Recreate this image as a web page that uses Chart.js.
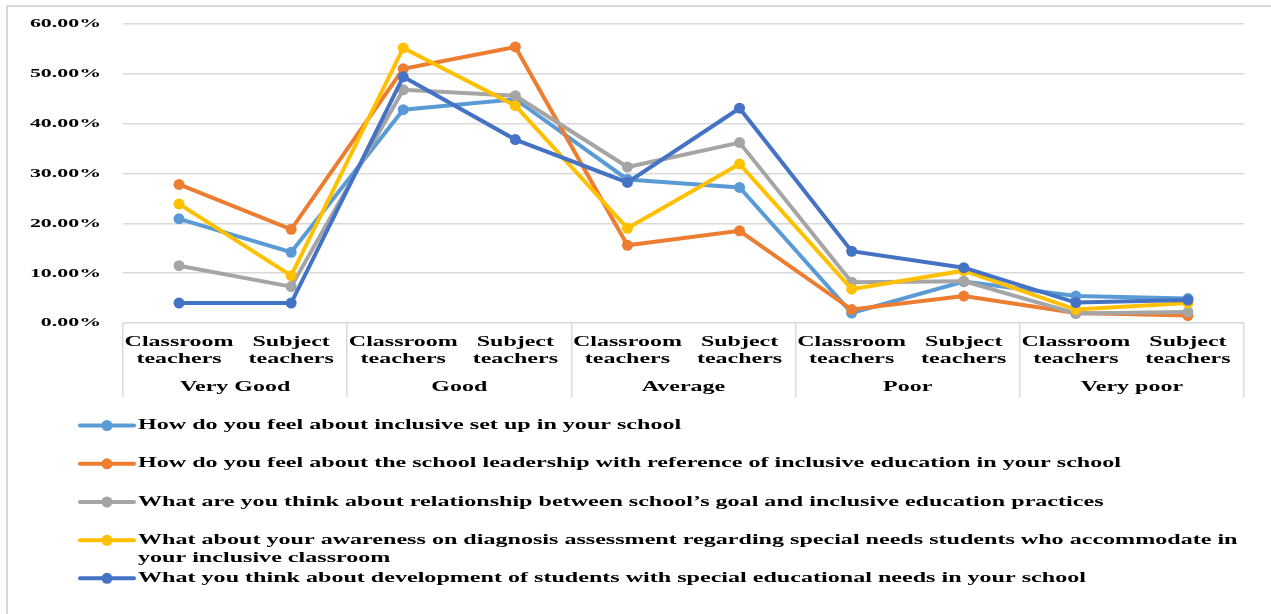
<!DOCTYPE html>
<html>
<head>
<meta charset="utf-8">
<script src="https://cdn.jsdelivr.net/npm/chart.js@4.4.1/dist/chart.umd.min.js"></script>
<style>
  html, body { margin: 0; padding: 0; background: #fff; overflow: hidden; }
  #frame { position: absolute; left: 6px; top: 5px; width: 1400px; height: 800px; border: 2px solid #d9d9d9; box-sizing: border-box; }
  #wrap { position: absolute; left: 0; top: 0; width: 1271px; height: 614px; }
</style>
</head>
<body>
<div id="frame"></div>
<div id="wrap"><canvas id="c" width="1271" height="614"></canvas></div>
<script>
// ---- data ----
const groups = ['Very Good', 'Good', 'Average', 'Poor', 'Very poor'];
const roles = [['Classroom', 'teachers'], ['Subject', 'teachers']];
const yTicks = [0, 10, 20, 30, 40, 50, 60];

const seriesNames = [
  'How do you feel about inclusive set up in your school',
  'How do you feel about the school leadership with reference of inclusive education in your school',
  'What are you think about relationship between school\u2019s goal and inclusive education practices',
  'What about your awareness on diagnosis assessment regarding special needs students who accommodate in your inclusive classroom',
  'What you think about development of students with special educational needs in your school'
];
const setUp      = [20.9, 14.2, 42.8, 44.9, 28.8, 27.2, 2.0, 8.3, 5.4, 4.9];
const leadership = [27.8, 18.8, 51.0, 55.4, 15.6, 18.5, 2.7, 5.4, 2.0, 1.5];
const goals      = [11.5, 7.3, 46.8, 45.6, 31.3, 36.2, 8.2, 8.4, 1.9, 2.2];
const awareness  = [23.9, 9.5, 55.2, 43.6, 19.0, 31.9, 6.8, 10.5, 2.7, 4.0];
const development= [4.0, 4.0, 49.4, 36.8, 28.2, 43.1, 14.4, 11.1, 4.1, 4.6];
const seriesValues = [setUp, leadership, goals, awareness, development];
const colors = ['#5B9BD5', '#ED7D31', '#A5A5A5', '#FFC000', '#4472C4'];

// ---- build ----
const labels = [];
groups.forEach(() => roles.forEach(r => labels.push(r)));

const canvas = document.getElementById('c');
const ctx = canvas.getContext('2d');
// horizontally widened serif text, as in the reference
const STRETCH = { right: 1.62, center: 1.6, left: 1.72 };
const kOf = c => STRETCH[c.textAlign] || 1.6;
const origFill = ctx.fillText.bind(ctx);
const origMeasure = ctx.measureText.bind(ctx);
ctx.fillText = function (t, x, y) {
  const k = kOf(this);
  this.save(); this.translate(x, y); this.scale(k, 1); origFill(t, 0, 0); this.restore();
};
ctx.measureText = function (t) {
  const k = kOf(this);
  const m = origMeasure(t);
  return { width: m.width * k, actualBoundingBoxAscent: m.actualBoundingBoxAscent,
    actualBoundingBoxDescent: m.actualBoundingBoxDescent,
    actualBoundingBoxLeft: m.actualBoundingBoxLeft * k, actualBoundingBoxRight: m.actualBoundingBoxRight * k,
    fontBoundingBoxAscent: m.fontBoundingBoxAscent, fontBoundingBoxDescent: m.fontBoundingBoxDescent };
};

const FONT = 'Liberation Serif, "Times New Roman", serif';
const GRID = '#d9d9d9';
const TRANSPARENT = 'rgba(0,0,0,0)';

const legendPlugin = {
  id: 'stackLegend',
  afterDraw(chart) {
    const c = chart.ctx;
    const ys = [425.5, 463.8, 502, 540.3, 578.3];
    const textX = 138, maxW = 1243 - textX;
    c.save();
    c.font = 'bold 14px ' + FONT;
    c.textBaseline = 'middle';
    c.textAlign = 'left';
    chart.data.datasets.forEach((ds, i) => {
      const y = ys[i];
      c.strokeStyle = ds.borderColor; c.lineWidth = 4; c.lineCap = 'round';
      c.beginPath(); c.moveTo(80, y); c.lineTo(134, y); c.stroke();
      c.fillStyle = ds.borderColor;
      c.beginPath(); c.arc(107, y, 5.5, 0, Math.PI * 2); c.fill();
      c.fillStyle = '#000';
      const words = ds.label.split(' ');
      let line = '', ly = y;
      words.forEach(w => {
        const test = line ? line + ' ' + w : w;
        if (c.measureText(test).width > maxW && line) {
          c.fillText(line, textX, ly); line = w; ly += 18.5;
        } else line = test;
      });
      c.fillText(line, textX, ly);
    });
    c.restore();
  }
};

new Chart(ctx, {
  type: 'line',
  data: {
    labels: labels,
    datasets: seriesValues.map((v, i) => ({
      label: seriesNames[i],
      data: v,
      borderColor: colors[i],
      backgroundColor: colors[i],
      borderWidth: 4,
      pointRadius: 5.5,
      pointHoverRadius: 5.5,
      pointBorderWidth: 0,
      tension: 0,
      order: 4 - i
    }))
  },
  options: {
    responsive: false,
    animation: false,
    events: [],
    layout: { padding: { left: 0, top: 24, right: 27, bottom: 217 } },
    plugins: { legend: { display: false }, tooltip: { enabled: false } },
    scales: {
      y: {
        min: 0, max: 60,
        afterBuildTicks: s => { s.ticks = yTicks.map(v => ({ value: v })); },
        afterFit: s => { s.width = 123; },
        border: { display: false },
        grid: { color: GRID, lineWidth: 1.5, drawTicks: true, tickLength: 22, tickColor: TRANSPARENT },
        ticks: {
          padding: 0,
          color: '#000',
          font: { family: FONT, size: 13.5, weight: 'bold' },
          callback: v => v.toFixed(2) + '%'
        }
      },
      x: {
        type: 'category',
        position: 'bottom',
        offset: true,
        afterFit: s => { s.height = 50; },
        border: { display: false },
        grid: {
          offset: true, drawOnChartArea: false, drawTicks: true, tickLength: 50, lineWidth: 1.5,
          color: c => (c.tick === undefined || c.index % 2 === 0 ? GRID : TRANSPARENT)
        },
        ticks: {
          padding: -40, maxRotation: 0, autoSkip: false, color: '#000',
          font: { family: FONT, size: 15, weight: 'bold', lineHeight: 1.15 }
        }
      },
      x2: {
        type: 'category',
        position: 'bottom',
        labels: groups,
        offset: true,
        afterFit: s => { s.height = 24; },
        border: { display: false },
        grid: { offset: true, drawOnChartArea: false, drawTicks: true, tickLength: 24, lineWidth: 1.5, color: GRID },
        ticks: {
          padding: -19, maxRotation: 0, autoSkip: false, color: '#000',
          font: { family: FONT, size: 15, weight: 'bold' }
        }
      }
    }
  },
  plugins: [legendPlugin]
});
</script>
</body>
</html>
